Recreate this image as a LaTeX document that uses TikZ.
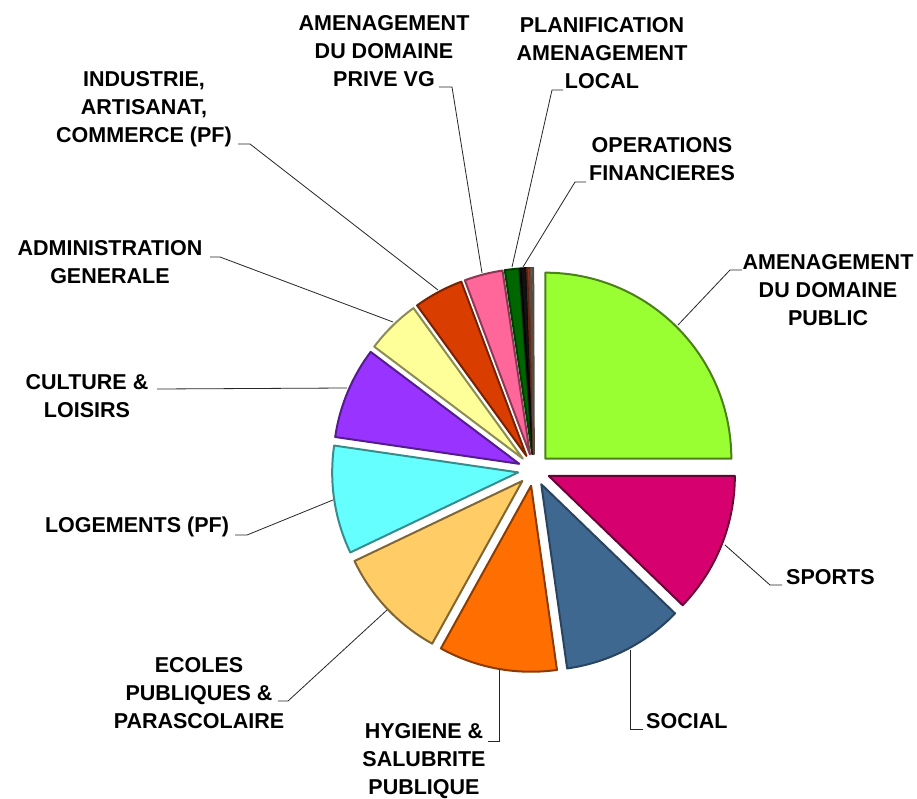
\documentclass[tikz,border=0pt]{standalone}
\usepackage{fontspec}
\setmainfont{Liberation Sans}
\usetikzlibrary{calc}
\definecolor{cGreen}{HTML}{99FF33}
\definecolor{cMagenta}{HTML}{D6006E}
\definecolor{cBlue}{HTML}{3F6890}
\definecolor{cOrange}{HTML}{FF6E00}
\definecolor{cLtOrange}{HTML}{FFCC66}
\definecolor{cCyan}{HTML}{66FFFF}
\definecolor{cPurple}{HTML}{9933FF}
\definecolor{cYellow}{HTML}{FFFF99}
\definecolor{cRed}{HTML}{D93D00}
\definecolor{cPink}{HTML}{FF6699}
\definecolor{cDkGreen}{HTML}{006600}
\definecolor{cBlack}{HTML}{111111}
\definecolor{cBrown}{HTML}{A03C1E}
\definecolor{cGray}{HTML}{8C7F70}
\tikzset{
  lbl/.style={font=\bfseries\fontsize{21.5}{28}\selectfont, align=center, inner sep=0pt, text=black},
  leader/.style={draw=black!85, line width=0.8pt},
  slicestyle/.style={line width=2pt, line join=round}
}
\newcommand\pieslice[4]{%
  \pgfmathsetmacro\midang{(#1+#2)/2}%
  \draw[slicestyle, fill=#3, draw=#4] ($(C)+(-\midang:16)$) -- ++(-#1:186)
     arc[start angle=-#1, end angle=-#2, radius=186] -- cycle;}
\begin{document}
\begin{tikzpicture}[x=1pt,y=-1pt]
\useasboundingbox (0,0) rectangle (917,799);
\fill[white] (0,0) rectangle (917,799);
\coordinate (C) at (534,470);
% slices (screen angles, clockwise from top)
\pieslice{90}{0}{cGreen}{cGreen!50!black}
\pieslice{0}{-44}{cMagenta}{cMagenta!50!black}
\pieslice{-44}{-82}{cBlue}{cBlue!65!black}
\pieslice{-82}{-119}{cOrange}{cOrange!55!black}
\pieslice{-119}{-154.5}{cLtOrange}{cLtOrange!50!black}
\pieslice{-154.5}{-188.3}{cCyan}{cCyan!55!black}
\pieslice{171.7}{143}{cPurple}{cPurple!55!black}
\pieslice{143}{126}{cYellow}{cYellow!55!black}
\pieslice{126}{110.5}{cRed}{cRed!55!black}
\pieslice{110.5}{98.5}{cPink}{cPink!55!black}
\pieslice{98.5}{94}{cDkGreen}{cDkGreen!60!black}
\pieslice{94}{92}{cBlack}{black}
\pieslice{92}{91}{cBrown}{cBrown!60!black}
\pieslice{91}{90.2}{cGray}{cGray!60!black}
% labels
\node[lbl] (lPub) at (828,290) {AMENAGEMENT\\DU DOMAINE\\PUBLIC};
\node[lbl, anchor=west] (lSpo) at (786,577) {SPORTS};
\node[lbl, anchor=west] (lSoc) at (646,721) {SOCIAL};
\node[lbl] (lHyg) at (424,761) {HYGIENE \&\\SALUBRITE\\PUBLIQUE};
\node[lbl] (lEco) at (199,693) {ECOLES\\PUBLIQUES \&\\PARASCOLAIRE};
\node[lbl] (lLog) at (137,527) {LOGEMENTS (PF)};
\node[lbl] (lCul) at (87,396) {CULTURE \&\\LOISIRS};
\node[lbl] (lAdm) at (110,262) {ADMINISTRATION\\GENERALE};
\node[lbl] (lInd) at (144,109) {INDUSTRIE,\\ARTISANAT,\\COMMERCE (PF)};
\node[lbl] (lPri) at (384,51) {AMENAGEMENT\\DU DOMAINE\\PRIVE VG};
\node[lbl] (lPla) at (602,53) {PLANIFICATION\\AMENAGEMENT\\LOCAL};
\node[lbl] (lOpe) at (662,159) {OPERATIONS\\FINANCIERES};
% leader coordinates
\coordinate (aPub) at (742,270); \coordinate (bPub) at (730,270); \coordinate (ePub) at (678,325);
\coordinate (aSpo) at (782,585); \coordinate (bSpo) at (770,585); \coordinate (eSpo) at (725,545);
\coordinate (aSoc) at (643,729); \coordinate (bSoc) at (630,729); \coordinate (eSoc) at (630,650);
\coordinate (aHyg) at (488,741); \coordinate (bHyg) at (499,741); \coordinate (eHyg) at (499,670);
\coordinate (aEco) at (278,701); \coordinate (bEco) at (288,701); \coordinate (eEco) at (387,610);
\coordinate (aLog) at (235,535); \coordinate (bLog) at (247,535); \coordinate (eLog) at (333,500);
\coordinate (aCul) at (157,389); \coordinate (eCul) at (347,388);
\coordinate (aAdm) at (210,257); \coordinate (bAdm) at (220,257); \coordinate (eAdm) at (393,322);
\coordinate (aInd) at (238,144); \coordinate (bInd) at (250,144); \coordinate (eInd) at (438,290);
\coordinate (aPri) at (439,87); \coordinate (bPri) at (452,87); \coordinate (ePri) at (482,273);
\coordinate (aPla) at (563,90); \coordinate (bPla) at (552,90); \coordinate (ePla) at (512,267);
\coordinate (aOpe) at (586,182); \coordinate (bOpe) at (575,182); \coordinate (eOpe) at (523,267);
\draw[leader] (aPub) -- (bPub) -- (ePub);
\draw[leader] (aSpo) -- (bSpo) -- (eSpo);
\draw[leader] (aSoc) -- (bSoc) -- (eSoc);
\draw[leader] (aHyg) -- (bHyg) -- (eHyg);
\draw[leader] (aEco) -- (bEco) -- (eEco);
\draw[leader] (aLog) -- (bLog) -- (eLog);
\draw[leader] (aCul) -- (eCul);
\draw[leader] (aAdm) -- (bAdm) -- (eAdm);
\draw[leader] (aInd) -- (bInd) -- (eInd);
\draw[leader] (aPri) -- (bPri) -- (ePri);
\draw[leader] (aPla) -- (bPla) -- (ePla);
\draw[leader] (aOpe) -- (bOpe) -- (eOpe);
\end{tikzpicture}
\end{document}
